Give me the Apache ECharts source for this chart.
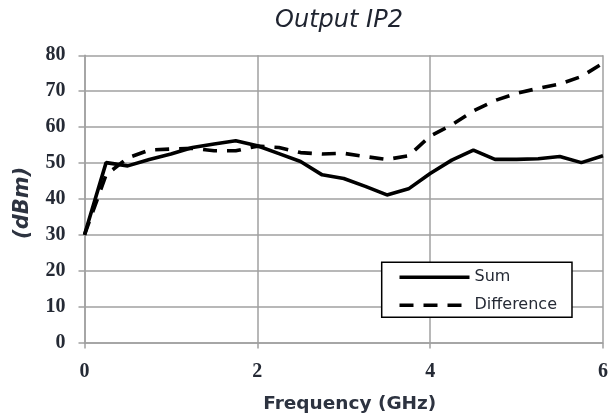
<!DOCTYPE html>
<html><head><meta charset="utf-8">
<script src="https://cdn.jsdelivr.net/npm/echarts@6/dist/echarts.min.js"></script>
<style>html,body{margin:0;padding:0;background:#fff}#c{width:615px;height:420px}</style>
</head><body><div id="c"></div>
<script>
var freq = [0, 0.25, 0.5, 0.75, 1.0, 1.25, 1.5, 1.75, 2.0, 2.25, 2.5, 2.75, 3.0, 3.25, 3.5, 3.75, 4.0, 4.25, 4.5, 4.75, 5.0, 5.25, 5.5, 5.75, 6.0];
var sumVals = [30, 50.1, 49.2, 51, 52.5, 54.3, 55.3, 56.2, 54.8, 52.6, 50.4, 46.7, 45.7, 43.5, 41.1, 42.8, 47.1, 50.8, 53.6, 51, 51, 51.2, 51.8, 50.1, 52];
var diffVals = [30, 46.7, 51.4, 53.6, 53.9, 54.1, 53.4, 53.4, 54.7, 54.3, 52.9, 52.5, 52.7, 51.8, 51.0, 52.0, 57.5, 60.6, 64.5, 67.4, 69.4, 70.8, 72, 74.1, 77.8];
var seriesNames = ['Sum', 'Difference'];

function pairs(xs, ys){ return xs.map(function(x,i){ return [x, ys[i]]; }); }
var chart = echarts.init(document.getElementById('c'));
var tickFont = {fontFamily:'Liberation Serif', fontWeight:'bold', fontSize:20, color:'#252a35'};
chart.setOption({
  animation:false,
  title:{text:'Output IP2', left:334, top:4, textAlign:'center',
    textStyle:{fontFamily:'DejaVu Sans', fontStyle:'italic', fontWeight:'normal', fontSize:24, color:'#1f2430'}},
  grid:{left:84.5, right:12, top:55.3, bottom:77.5},
  legend:{orient:'vertical', left:381.7, top:262.3, itemWidth:70, itemHeight:14, itemGap:12, itemTextGap:7,
    padding:[7,15,4,16], borderColor:'#000', borderWidth:1.5, backgroundColor:'#fff',
    itemStyle:{opacity:0}, lineStyle:{width:3.6},
    textStyle:{fontFamily:'DejaVu Sans', fontSize:16, color:'#252a35'}, data:seriesNames},
  xAxis:{type:'value', min:0, max:6, interval:2,
    name:'Frequency (GHz)', nameLocation:'middle', nameGap:52,
    nameTextStyle:{fontFamily:'DejaVu Sans', fontWeight:'bold', fontSize:18.5, color:'#2d3340', padding:[0,0,0,12]},
    axisLine:{lineStyle:{color:'#a0a0a0', width:1.5}},
    axisTick:{show:true, inside:false, length:6, lineStyle:{color:'#a0a0a0', width:1.5}},
    splitLine:{show:true, lineStyle:{color:'#a0a0a0', width:1.5}},
    axisLabel:Object.assign({margin:19}, tickFont)},
  yAxis:{type:'value', min:0, max:80, interval:10,
    name:'(dBm)', nameLocation:'middle', nameGap:51,
    nameTextStyle:{fontFamily:'DejaVu Sans', fontWeight:'bold', fontStyle:'italic', fontSize:21, color:'#2d3340', padding:[0,8,0,0]},
    axisLine:{show:true, lineStyle:{color:'#a0a0a0', width:1.5}},
    axisTick:{show:true, inside:false, length:6, lineStyle:{color:'#a0a0a0', width:1.5}},
    splitLine:{show:true, lineStyle:{color:'#a0a0a0', width:1.5}},
    axisLabel:Object.assign({margin:19}, tickFont)},
  series:[
    {name:seriesNames[0], type:'line', data:pairs(freq, sumVals), symbol:'none',
      lineStyle:{color:'#000', width:3.6}, itemStyle:{color:'#000'}},
    {name:seriesNames[1], type:'line', data:pairs(freq, diffVals), symbol:'none',
      lineStyle:{color:'#000', width:3.6, type:[14,10]}, itemStyle:{color:'#000'}}
  ]
});
</script></body></html>
